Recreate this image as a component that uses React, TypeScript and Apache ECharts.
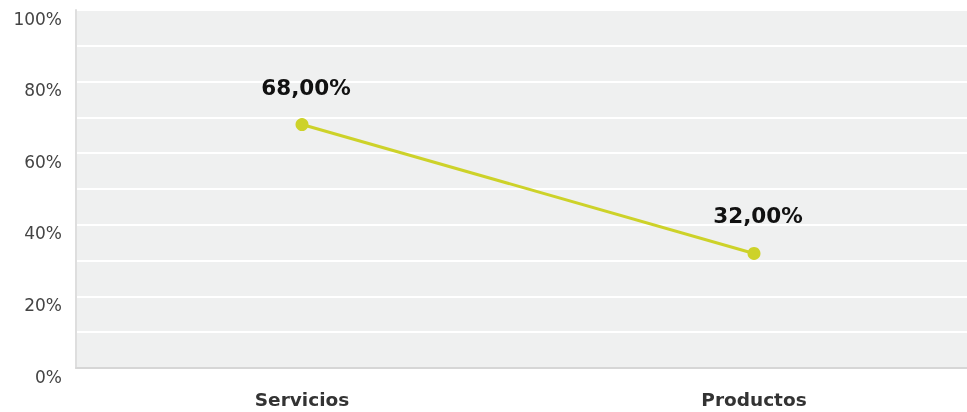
import React, { useEffect, useRef } from "react";
import * as echarts from "echarts";

const categories = ["Servicios", "Productos"];
const shareValues = [68, 32];
const yTicks = [0, 20, 40, 60, 80, 100];

export default function App() {
  const ref = useRef<HTMLDivElement>(null);
  useEffect(() => {
    if (!ref.current) return;
    const chart = echarts.init(ref.current, null, { renderer: "svg" });
    chart.setOption({
      animation: false,
      grid: {
        left: 76,
        right: 0,
        top: 10,
        bottom: 44,
        show: true,
        backgroundColor: "#eff0f0",
        borderWidth: 0,
      },
      xAxis: {
        type: "category",
        data: categories,
        boundaryGap: true,
        axisLine: { show: true, lineStyle: { color: "#d6d6d6", width: 2 } },
        axisTick: { show: false },
        axisLabel: {
          margin: 22,
          color: "#333",
          fontFamily: "DejaVu Sans",
          fontWeight: "bold",
          fontSize: 18.5,
        },
      },
      yAxis: {
        type: "value",
        min: 0,
        max: 100,
        interval: 10,
        axisLine: { show: true, lineStyle: { color: "#dedede", width: 2 } },
        axisTick: { show: false },
        splitLine: {
          show: true,
          lineStyle: { color: "#ffffff", width: 2 },
        },
        axisLabel: {
          margin: 14,
          color: "#444",
          fontFamily: "DejaVu Sans",
          fontSize: 17,
          verticalAlign: "top",
          formatter: (v: number) => (yTicks.includes(v) ? v + "%" : ""),
        },
      },
      series: [
        {
          type: "line",
          data: shareValues,
          color: "#cdd229",
          lineStyle: { color: "#cdd229", width: 3 },
          symbol: "circle",
          symbolSize: 13,
          itemStyle: { color: "#cdd229" },
          label: {
            show: true,
            position: "top",
            distance: 20,
            offset: [4, 0],
            color: "#111",
            fontFamily: "DejaVu Sans",
            fontWeight: "bold",
            fontSize: 21.5,
            formatter: (p: any) => p.value.toFixed(2).replace(".", ",") + "%",
          },
        },
      ],
    });
    return () => chart.dispose();
  }, []);
  return (
    <div
      style={{
        position: "fixed",
        left: 0,
        top: 0,
        width: 967,
        height: 412,
        overflow: "hidden",
      }}
    >
      <div ref={ref} style={{ width: 980, height: 412 }} />
    </div>
  );
}
